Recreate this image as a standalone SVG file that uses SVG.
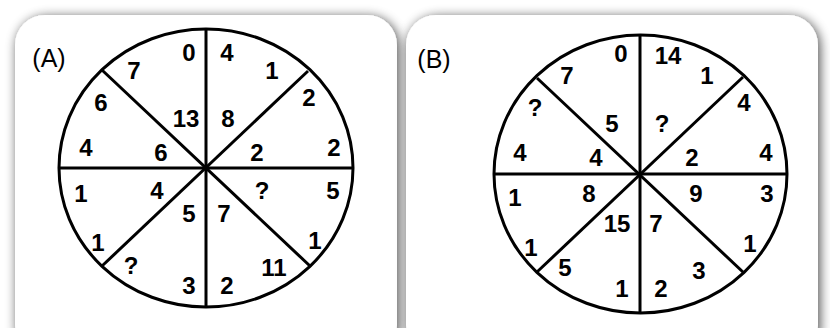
<svg xmlns="http://www.w3.org/2000/svg" width="830" height="328" viewBox="0 0 830 328">
<defs>
<filter id="sh" x="-10%" y="-10%" width="120%" height="120%">
<feGaussianBlur in="SourceAlpha" stdDeviation="6"/>
<feOffset dx="2" dy="2" result="b"/>
<feComponentTransfer><feFuncA type="linear" slope="0.7"/></feComponentTransfer>
<feMerge><feMergeNode/><feMergeNode in="SourceGraphic"/></feMerge>
</filter>
</defs>
<style>
.panel{fill:#fff;filter:url(#sh)}
.ln{stroke:#000;stroke-width:3;fill:none}
.n{font-family:"Liberation Sans",Arial,sans-serif;font-weight:bold;font-size:24px;text-anchor:middle;fill:#000}
.lb{font-family:"Liberation Sans",Arial,sans-serif;font-size:25px;text-anchor:middle;fill:#000}
</style>
<rect width="830" height="328" fill="#fff"/>
<g id="panelA">
<rect class="panel" x="15" y="15" width="382" height="340" rx="30"/>
<text class="lb" x="49" y="67">(A)</text>
</g>
<g id="panelB">
<rect class="panel" x="406" y="15" width="412" height="340" rx="30"/>
<text class="lb" x="434" y="68">(B)</text>
</g>
<g id="connectors">
<ellipse class="ln" cx="206" cy="168" rx="147" ry="139"/>
<line class="ln" x1="206" y1="29" x2="206" y2="307"/>
<line class="ln" x1="59" y1="168" x2="353" y2="168"/>
<line class="ln" x1="102" y1="70" x2="310" y2="266"/>
<line class="ln" x1="308" y1="71" x2="102" y2="266"/>
<ellipse class="ln" cx="640.5" cy="174" rx="146.5" ry="139"/>
<line class="ln" x1="640" y1="35" x2="640" y2="313"/>
<line class="ln" x1="494" y1="174" x2="787" y2="174"/>
<line class="ln" x1="537" y1="78" x2="744" y2="273"/>
<line class="ln" x1="743" y1="77" x2="537" y2="272"/>
</g>
<g id="wheelA">
<text class="n" x="189" y="61">0</text>
<text class="n" x="227" y="61">4</text>
<text class="n" x="134" y="79">7</text>
<text class="n" x="272" y="79">1</text>
<text class="n" x="101" y="111">6</text>
<text class="n" x="309" y="106">2</text>
<text class="n" x="186" y="127">13</text>
<text class="n" x="228" y="127">8</text>
<text class="n" x="86" y="156">4</text>
<text class="n" x="161" y="161">6</text>
<text class="n" x="257" y="161">2</text>
<text class="n" x="334" y="156">2</text>
<text class="n" x="81" y="202">1</text>
<text class="n" x="157" y="199">4</text>
<text class="n" x="262" y="199">?</text>
<text class="n" x="333" y="199">5</text>
<text class="n" x="189" y="222">5</text>
<text class="n" x="224" y="222">7</text>
<text class="n" x="98" y="251">1</text>
<text class="n" x="315" y="249">1</text>
<text class="n" x="131" y="274">?</text>
<text class="n" x="274" y="276">11</text>
<text class="n" x="189" y="294">3</text>
<text class="n" x="227" y="294">2</text>
</g>
<g id="wheelB">
<text class="n" x="621" y="62">0</text>
<text class="n" x="668" y="64">14</text>
<text class="n" x="567" y="84">7</text>
<text class="n" x="707" y="84">1</text>
<text class="n" x="535" y="116">?</text>
<text class="n" x="744" y="111">4</text>
<text class="n" x="612" y="132">5</text>
<text class="n" x="662" y="132">?</text>
<text class="n" x="520" y="161">4</text>
<text class="n" x="596" y="166">4</text>
<text class="n" x="692" y="166">2</text>
<text class="n" x="766" y="161">4</text>
<text class="n" x="515" y="206">1</text>
<text class="n" x="589" y="202">8</text>
<text class="n" x="696" y="202">9</text>
<text class="n" x="767" y="202">3</text>
<text class="n" x="617" y="232">15</text>
<text class="n" x="656" y="232">7</text>
<text class="n" x="531" y="256">1</text>
<text class="n" x="750" y="252">1</text>
<text class="n" x="565" y="276">5</text>
<text class="n" x="699" y="279">3</text>
<text class="n" x="622" y="297">1</text>
<text class="n" x="661" y="297">2</text>
</g>
</svg>
